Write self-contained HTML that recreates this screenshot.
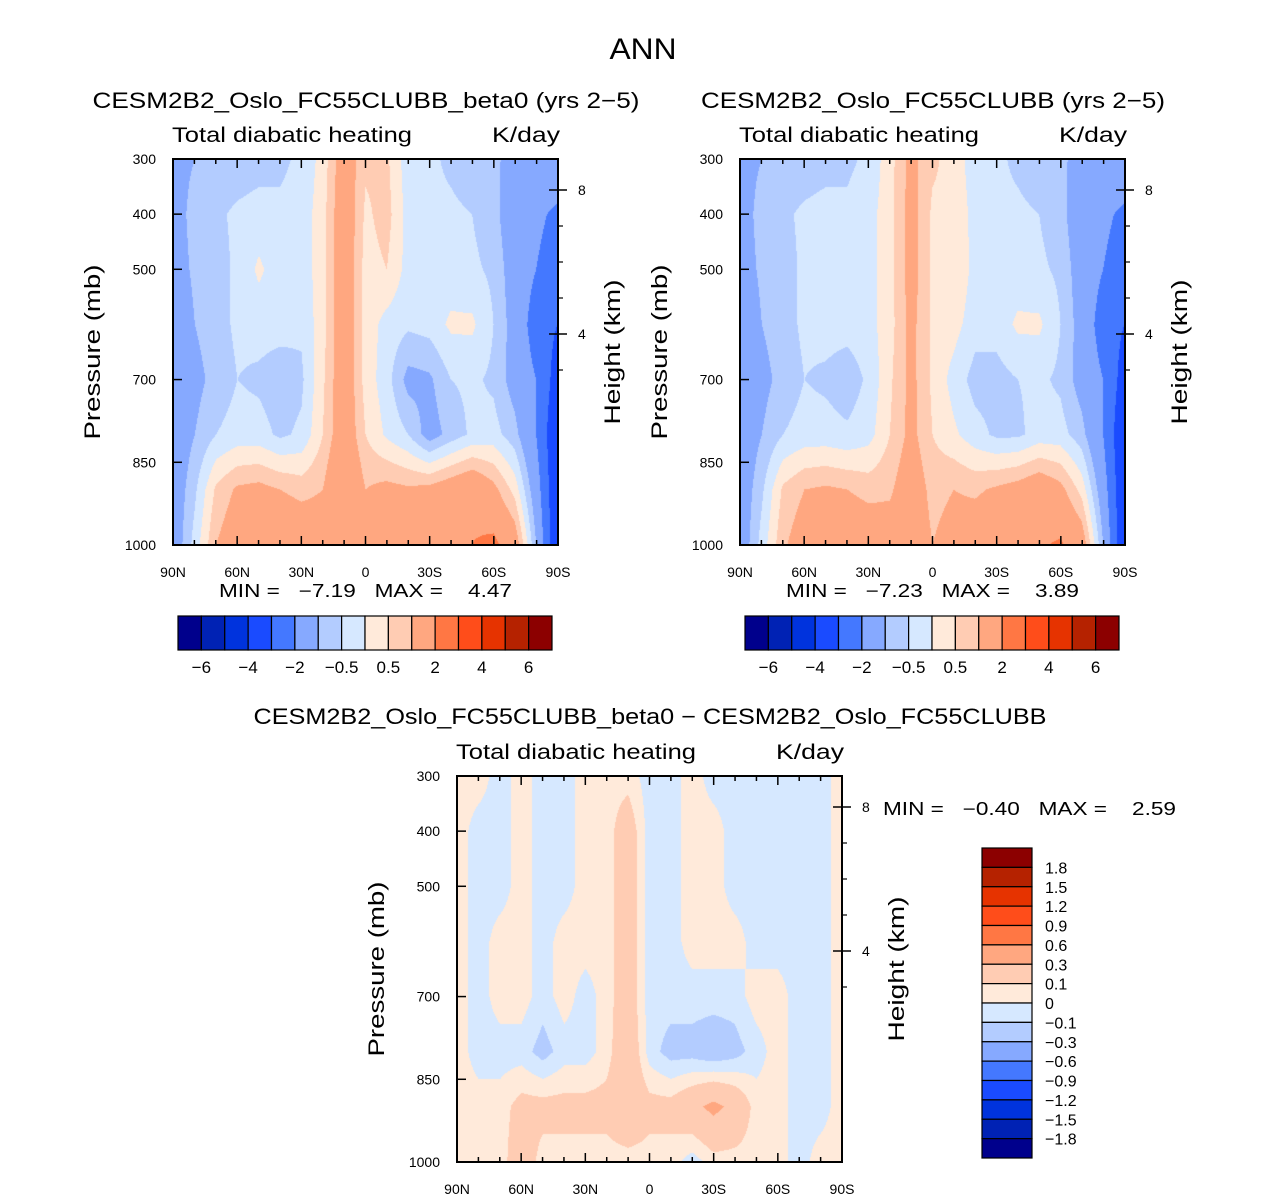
<!DOCTYPE html>
<html><head><meta charset="utf-8"><style>
body{margin:0;background:#fff;width:1285px;height:1200px;overflow:hidden;position:relative;font-family:"Liberation Sans",sans-serif}
canvas{position:absolute}
svg{position:absolute;left:0;top:0}
text{font-family:"Liberation Sans",sans-serif;fill:#000;white-space:pre}
</style></head><body>
<canvas id="c1" width="385" height="386" style="left:173px;top:159px"></canvas>
<canvas id="c2" width="385" height="386" style="left:740px;top:159px"></canvas>
<canvas id="c3" width="385" height="386" style="left:457px;top:776px"></canvas>
<svg id="s" width="1285" height="1200"></svg>
<script>
const lats=[90,80,70,60,50,40,30,20,10,0,-10,-20,-30,-40,-50,-60,-70,-80,-90];
const levels=[300,400,500,600,700,800,900,1000];
const colors=["#00008C","#0022B4","#0033DD","#1A4BFF","#4478FF","#86A9FF","#B3CCFF","#D6E8FF","#FFEADA","#FFCCB3","#FFA780","#FF7744","#FF4D1A","#E63300","#B52200","#8C0000"];
const bounds1=[-6,-5,-4,-3,-2,-1,-0.5,0,0.5,1,2,3,4,5,6];
const bounds3=[-1.8,-1.5,-1.2,-0.9,-0.6,-0.3,-0.1,0,0.1,0.3,0.6,0.9,1.2,1.5,1.8];
const field1=[
[-1.2,-1,-0.8,-0.8,-0.7,-0.6,-0.4,0.2,1.5,0.6,0.6,-0.3,-0.4,-0.6,-0.8,-0.9,-1.2,-1.2,-1.2],
[-1.3,-0.8,-0.6,-0.4,-0.3,-0.4,-0.3,0.3,1.6,0.4,0.7,-0.2,-0.4,-0.4,-0.5,-0.8,-1.5,-1.8,-2.2],
[-1.3,-0.9,-0.7,-0.4,0.1,-0.3,-0.3,0.3,1.6,0.3,0.5,-0.2,-0.3,-0.3,-0.4,-0.6,-1.4,-2,-2.5],
[-1.5,-1,-0.7,-0.4,-0.3,-0.3,-0.4,0.3,1.6,0.3,-0.2,-0.4,-0.3,0.1,0.1,-0.5,-1.3,-2.5,-3],
[-1.6,-1.2,-0.8,-0.5,-0.6,-0.8,-0.6,0.4,1.6,0.3,-0.3,-1.2,-1.1,-0.5,-0.4,-0.6,-1.3,-2,-3.5],
[-1.5,-1,-0.5,-0.3,-0.3,-0.6,-0.4,0.5,1.6,0.5,-0.1,-0.5,-1.3,-0.8,-0.4,-0.3,-0.8,-2,-4],
[-1.5,-0.6,0.6,1.1,1.2,1.0,0.8,1.0,2,1.0,1.2,1.1,1.2,1.5,1.8,1.2,0.3,-1.5,-4],
[-1.5,-0.3,1.0,1.5,1.6,1.8,1.7,1.5,1.8,1.2,1.5,1.7,1.7,1.8,2.0,2.2,1.5,-1,-4]];
const field2=[
[-1.2,-1,-0.8,-0.8,-0.7,-0.6,-0.4,0.3,1.2,0.6,0.3,-0.3,-0.4,-0.6,-0.8,-0.9,-1.2,-1.2,-1.2],
[-1.3,-0.8,-0.6,-0.4,-0.3,-0.4,-0.2,0.3,1.3,0.4,0.4,-0.2,-0.4,-0.4,-0.5,-0.8,-1.5,-1.8,-2.2],
[-1.3,-0.9,-0.7,-0.4,-0.3,-0.3,-0.2,0.3,1.3,0.4,0.5,-0.2,-0.3,-0.3,-0.4,-0.6,-1.4,-2,-2.5],
[-1.5,-1,-0.7,-0.4,-0.3,-0.3,-0.2,0.3,1.2,0.4,0.2,-0.3,-0.3,0.1,0.1,-0.5,-1.3,-2.5,-3],
[-1.6,-1.2,-0.8,-0.5,-0.6,-0.8,-0.4,0.4,1.2,0.4,-0.2,-0.7,-0.7,-0.5,-0.4,-0.6,-1.3,-2,-3.5],
[-1.5,-1,-0.5,-0.3,-0.3,-0.4,-0.2,0.5,1.2,0.5,0.1,-0.3,-0.6,-0.6,-0.3,-0.3,-0.8,-2,-4],
[-1.5,-0.6,0.6,1.0,1.1,1.0,0.8,0.9,1.5,0.8,1.0,0.9,1.1,1.3,1.6,1.2,0.3,-1.5,-4],
[-1.5,-0.3,0.9,1.4,1.5,1.7,1.6,1.4,1.6,1.0,1.3,1.5,1.6,1.7,1.9,2.1,1.5,-1,-4]];
const field3=[
[0.05,0.05,-0.05,0.05,-0.05,-0.05,0.05,0.05,0.05,-0.05,-0.05,0.05,-0.05,-0.05,-0.05,-0.05,-0.05,-0.05,0.05],
[0.05,-0.05,-0.05,0.05,-0.05,-0.05,0.05,0.05,0.2,-0.05,-0.05,0.05,0.05,-0.05,-0.05,-0.05,-0.05,-0.05,0.05],
[0.05,-0.05,-0.05,0.05,-0.05,-0.05,0.05,0.05,0.2,-0.05,-0.05,0.05,0.05,-0.05,-0.05,-0.05,-0.05,-0.05,0.05],
[0.05,-0.05,0.05,0.05,-0.05,0.05,0.05,0.05,0.2,-0.05,-0.05,0.05,0.05,0.05,-0.05,-0.05,-0.05,-0.05,0.05],
[0.05,-0.05,0.05,0.05,-0.05,0.05,-0.05,0.05,0.2,-0.05,-0.05,-0.05,-0.05,-0.05,0.05,0.05,-0.05,-0.05,0.05],
[0.05,-0.05,-0.05,-0.05,-0.15,-0.05,-0.05,0.05,0.25,-0.05,-0.15,-0.15,-0.2,-0.15,-0.05,0.05,-0.05,-0.05,0.05],
[0.05,0.05,0.05,0.15,0.15,0.15,0.15,0.15,0.25,0.15,0.15,0.25,0.35,0.25,0.05,0.05,-0.05,-0.05,0.05],
[0.05,0.05,0.05,0.2,0.05,0.05,0.05,0.05,0.05,0.05,0.05,-0.05,0.05,0.05,0.05,0.05,-0.05,0.05,0.05]];

function hex(c){return [parseInt(c.slice(1,3),16),parseInt(c.slice(3,5),16),parseInt(c.slice(5,7),16)];}
const rgb=colors.map(hex);
function draw(id,field,bounds){
  const cv=document.getElementById(id),ctx=cv.getContext('2d'),W=cv.width,H=cv.height;
  const img=ctx.createImageData(W,H);
  const nc=lats.length-1,nr=levels.length-1;
  for(let y=0;y<H;y++){
    const p=300+y/(H-1)*700;
    let r=Math.min(nr-1,Math.floor((p-300)/100));const fy=(p-levels[r])/(levels[r+1]-levels[r]);
    for(let x=0;x<W;x++){
      const lat=90-x/(W-1)*180;
      let c=Math.min(nc-1,Math.floor((90-lat)/10));const fx=((90-lat)-c*10)/10;
      const v=(field[r][c]*(1-fx)+field[r][c+1]*fx)*(1-fy)+(field[r+1][c]*(1-fx)+field[r+1][c+1]*fx)*fy;
      let k=0;while(k<bounds.length&&v>=bounds[k])k++;
      const col=rgb[k],i=(y*W+x)*4;
      img.data[i]=col[0];img.data[i+1]=col[1];img.data[i+2]=col[2];img.data[i+3]=255;
    }
  }
  ctx.putImageData(img,0,0);
}
draw('c1',field1,bounds1);draw('c2',field2,bounds1);draw('c3',field3,bounds3);

const S=document.getElementById('s');const NS='http://www.w3.org/2000/svg';
function el(tag,attrs,txt){const e=document.createElementNS(NS,tag);for(const k in attrs)e.setAttribute(k,attrs[k]);if(txt!==undefined)e.textContent=txt;S.appendChild(e);return e;}
function txt(x,y,s,size,anchor,name,rot,len){const a={x:x,y:y,'font-size':size,'text-anchor':anchor||'start'};if(rot)a.transform='rotate(-90 '+x+' '+y+')';if(len){a.textLength=len;a.lengthAdjust='spacingAndGlyphs';}const e=el('text',a,s);

return e;}
txt(643,59,'ANN',30,'middle','main-title',false,67);
const latTicks=[90,60,30,0,-30,-60,-90],latLabels=['90N','60N','30N','0','30S','60S','90S'];
const pTicks=[300,400,500,700,850,1000];
function panel(x0,y0,title,tx,ty,tlen,minmax,mmx,mmy,pre){
  const W=385,H=386;
  txt(tx,ty,title,22,'middle',pre+'-title',false,tlen);
  txt(x0-1,y0-17,'Total diabatic heating',21,'start',pre+'-variable-label',false,240);
  txt(x0+W+2,y0-17,'K/day',21,'end',pre+'-units-label',false,68);
  const b=el('rect',{x:x0,y:y0,width:W,height:H,fill:'none',stroke:'#000','stroke-width':2});
  
  
  for(let lat=90;lat>=-90;lat-=10){const x=x0+(90-lat)/180*W;const maj=lat%30===0;const L=maj?9:5;
    el('line',{x1:x,y1:y0+H,x2:x,y2:y0+H-L,stroke:'#000','stroke-width':1.5});
    el('line',{x1:x,y1:y0,x2:x,y2:y0+L,stroke:'#000','stroke-width':1.5});}
  latTicks.forEach((lat,i)=>{const x=x0+(90-lat)/180*W;txt(x,y0+H+32,latLabels[i],14,'middle',pre+'-x-tick-label');});
  pTicks.forEach(p=>{const y=y0+(p-300)/700*H;el('line',{x1:x0,y1:y,x2:x0+9,y2:y,stroke:'#000','stroke-width':1.5});
    txt(x0-17,y+5,String(p),14,'end',pre+'-y-tick-label');});
  txt(x0-73,y0+H/2,'Pressure (mb)',22,'middle',pre+'-y-axis-title',true,175);
  [[8,31],[4,175]].forEach(h=>{const y=y0+h[1];el('line',{x1:x0+W,y1:y,x2:x0+W+9,y2:y,stroke:'#000','stroke-width':1.5});
    el('line',{x1:x0+W,y1:y,x2:x0+W-9,y2:y,stroke:'#000','stroke-width':1.5});
    txt(x0+W+20,y+5,String(h[0]),14,'start',pre+'-height-tick-label');});
  for(let i=1;i<=9;i++){const y=y0+31+(i-4)*36;if(y>y0&&y<y0+H&&i!==4&&i!==8)el('line',{x1:x0+W,y1:y,x2:x0+W+5,y2:y,stroke:'#000','stroke-width':1.2});}
  txt(x0+W+62,y0+H/2,'Height (km)',22,'middle',pre+'-right-axis-title',true,145);
  txt(mmx,mmy,minmax,18,'start',pre+'-min-max-label',false,293);
}
panel(173,159,'CESM2B2_Oslo_FC55CLUBB_beta0 (yrs 2\u22125)',366,108,547,'MIN =   \u22127.19   MAX =    4.47',219,597,'left-panel');
panel(740,159,'CESM2B2_Oslo_FC55CLUBB (yrs 2\u22125)',933,108,464,'MIN =   \u22127.23   MAX =    3.89',786,597,'right-panel');
panel(457,776,'CESM2B2_Oslo_FC55CLUBB_beta0 \u2212 CESM2B2_Oslo_FC55CLUBB',650,724,793,'MIN =   \u22120.40   MAX =    2.59',883,815,'diff-panel');
const cbLabels1=['\u22126','\u22124','\u22122','\u22120.5','0.5','2','4','6'];
function hbar(x0,pre){const w=374/16;
  colors.forEach((c,i)=>{const r=el('rect',{x:x0+i*w,y:616,width:w,height:34,fill:c,stroke:'#000','stroke-width':1.2});
    
    });
  cbLabels1.forEach((l,i)=>txt(x0+(2*i+1)*w,673,l,17,'middle',pre+'-colorbar-label'));}
hbar(178,'left');hbar(745,'right');
const cbLabels3=['1.8','1.5','1.2','0.9','0.6','0.3','0.1','0','\u22120.1','\u22120.3','\u22120.6','\u22120.9','\u22121.2','\u22121.5','\u22121.8'];
const bh=310/16;
colors.slice().reverse().forEach((c,i)=>{const r=el('rect',{x:982,y:848+i*bh,width:50,height:bh,fill:c,stroke:'#000','stroke-width':1.2});
  
  });
cbLabels3.forEach((l,i)=>txt(1045,848+(i+1)*bh+6,l,16,'start','diff-colorbar-label'));
</script>
</body></html>
